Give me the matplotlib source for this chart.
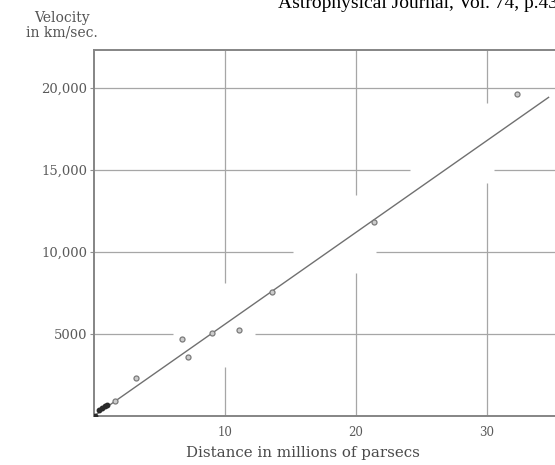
import matplotlib
matplotlib.use("Agg")
import matplotlib.pyplot as plt
import numpy as np

# Hubble & Humason (1931): velocity-distance relation for nebulae
# Cluster means (distance in Mpc, velocity in km/s)
cluster_names = ["Virgo", "Pegasus", "Pisces", "Cancer", "Perseus", "Coma", "Ursa Major", "Leo", "Group A"]
cluster_dist = [1.6, 7.2, 6.7, 9.0, 11.1, 13.6, 21.4, 32.3, 3.2]
cluster_vel = [920, 3600, 4700, 5060, 5240, 7560, 11830, 19630, 2320]

# Nearby individual nebulae crowded at the origin
near_dist = [0.05, 0.4, 0.6, 0.85, 1.0]
near_vel = [20, 370, 490, 610, 680]

# Fitted relation
slope = 560.0          # km/s per Mpc
fit_range = [0.0, 34.7]

x_ticks = [10, 20, 30]
y_ticks = [5000, 10000, 15000, 20000]
y_tick_labels = ["5000", "10,000", "15,000", "20,000"]

# Breaks in the ruling (data units) where the lines are left open
h_breaks = {5000: (6.0, 12.3), 10000: (15.2, 21.5), 15000: (24.1, 30.5), 20000: None}
v_breaks = {10: (2990, 8110), 20: (8720, 13480), 30: (14210, 19090)}

W, H = 555, 465
fig = plt.figure(figsize=(W / 100, H / 100), dpi=100)
fig.patch.set_facecolor("white")

xmin, xmax = 0.0, 36.0
ymin, ymax = 0.0, 22320.0
px_per_x = 13.1
left_px, bottom_px, top_px = 94, 416, 50
ax = fig.add_axes([left_px / W, (H - bottom_px) / H,
                   (xmax - xmin) * px_per_x / W, (bottom_px - top_px) / H])
ax.set_xlim(xmin, xmax)
ax.set_ylim(ymin, ymax)

grid_col = "#a6a6a6"
grid_lw = 0.9
for yv in y_ticks:
    br = h_breaks.get(yv)
    if br is None:
        ax.hlines(yv, xmin, xmax, color=grid_col, lw=grid_lw, zorder=1)
    else:
        ax.hlines(yv, xmin, br[0], color=grid_col, lw=grid_lw, zorder=1)
        ax.hlines(yv, br[1], xmax, color=grid_col, lw=grid_lw, zorder=1)
for xv in x_ticks:
    br = v_breaks.get(xv)
    ax.vlines(xv, ymin, br[0], color=grid_col, lw=grid_lw, zorder=1)
    ax.vlines(xv, br[1], ymax, color=grid_col, lw=grid_lw, zorder=1)

# Regression line
fx = np.array(fit_range)
ax.plot(fx, slope * fx, color="#707070", lw=1.0, zorder=2)

# Data points
ax.plot(cluster_dist, cluster_vel, "o", ms=3.6, mfc="#cccccc", mec="#7a7a7a",
        mew=0.9, zorder=3)
ax.plot(near_dist, near_vel, "o", ms=3.2, mfc="#2a2a2a", mec="#2a2a2a", zorder=3)

for side in ("left", "bottom", "top"):
    ax.spines[side].set_color("#858585")
    ax.spines[side].set_linewidth(1.4)
ax.spines["right"].set_visible(False)

serif = ["DejaVu Serif"]
ax.set_xticks(x_ticks)
ax.set_xticklabels([str(v) for v in x_ticks], family=serif, fontsize=8.5, color="#5a5a5a")
ax.set_yticks(y_ticks)
ax.set_yticklabels(y_tick_labels, family=serif, fontsize=9.5, color="#5a5a5a")
ax.tick_params(axis="x", length=0, pad=7)
ax.tick_params(axis="y", length=3, width=0.8, color="#909090", pad=2)

ax.set_xlabel("Distance in millions of parsecs", family=serif, fontsize=10.8,
              color="#4a4a4a", labelpad=6)
ax.xaxis.set_label_coords((303 - left_px) / ((xmax - xmin) * px_per_x), -0.083)

fig.text(62 / W, 1 - 18 / H, "Velocity", family=serif, fontsize=10,
         color="#555555", ha="center", va="center")
fig.text(62 / W, 1 - 33 / H, "in km/sec.", family=serif, fontsize=10,
         color="#555555", ha="center", va="center")

fig.text(278 / W, 1 - 8 / H, "Astrophysical Journal, Vol. 74, p.43",
         family=["Liberation Serif"], fontsize=14, color="black",
         ha="left", va="baseline")

fig.savefig("out.png", dpi=100, facecolor="white")
